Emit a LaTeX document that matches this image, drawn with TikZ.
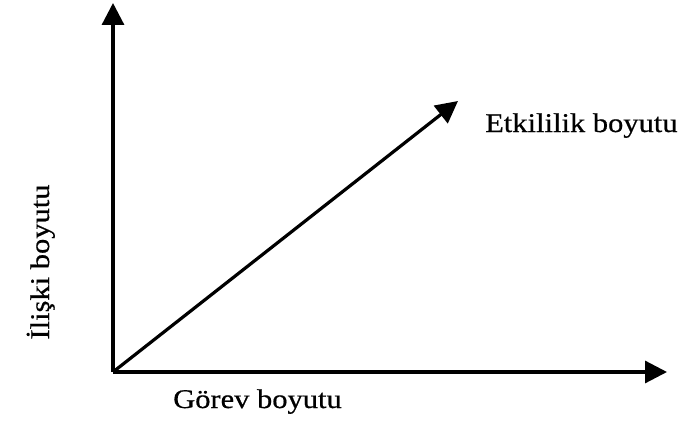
\documentclass[tikz,border=0pt]{standalone}
\usepackage{fontspec}
\setmainfont{Liberation Serif}[FakeStretch=1.13,FakeBold=0.6]
\usepackage{tikz}
\usetikzlibrary{arrows.meta,positioning}
\tikzset{
  axis/.style={-{Triangle[length=22pt,width=22pt]},draw=black,line width=3.2pt},
  label/.style={font=\fontsize{27}{30}\selectfont,inner sep=0pt}
}
\begin{document}
\begin{tikzpicture}[x=1pt,y=-1pt]
  \useasboundingbox (0,0) rectangle (682,433);
  \coordinate (o) at (113,372);
  \coordinate (ytip) at (113,3);
  \coordinate (xtip) at (667,372);
  \coordinate (etip) at (458,101);
  \draw[axis] (o) -- (ytip);
  \draw[axis] (o) -- (xtip);
  \draw[axis] (o) -- (etip);
  \node[label,anchor=base west] (gorev) at (173,408) {Görev boyutu};
  \node[label,anchor=base west] (etki) at (485,132) {Etkililik boyutu};
  \node[label,anchor=base,rotate=90] (iliski) at (49,262) {İlişki boyutu};
\end{tikzpicture}
\end{document}
